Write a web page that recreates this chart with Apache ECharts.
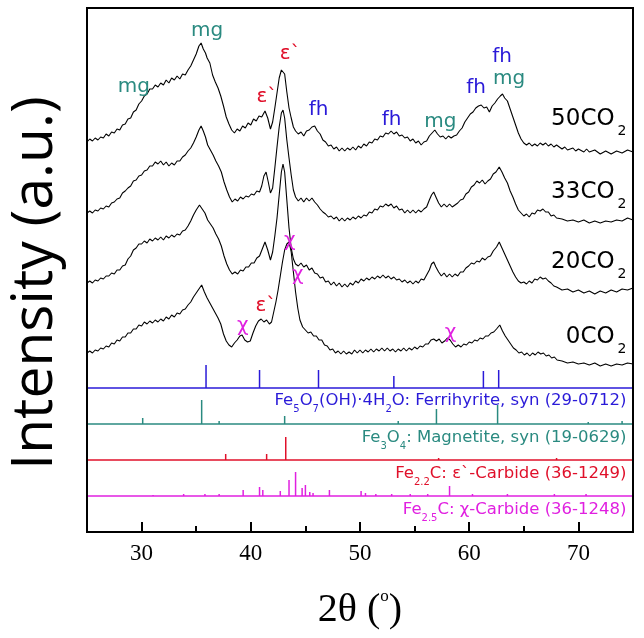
<!DOCTYPE html>
<html><head><meta charset="utf-8">
<script src="https://cdn.jsdelivr.net/npm/echarts@6/dist/echarts.min.js"></script>
<style>html,body{margin:0;padding:0;background:#fff}#c{width:644px;height:638px}</style>
</head><body><div id="c"></div>
<script>
// ---- axis ticks ----
const xTicks = [30, 40, 50, 60, 70];
const xMinorTicks = [35, 45, 55, 65];

// ---- XRD patterns (2theta, stacked intensity a.u.) ----
const s50CO2 = [[25,390],[25.25,393],[25.5,391],[25.75,394],[26,392],[26.25,395],[26.5,394],[26.75,398],[27,396],[27.25,400],[27.5,399],[27.75,403],[28,402],[28.25,407],[28.5,408],[28.75,413],[29,414],[29.25,420],[29.5,422],[29.75,428],[30,431],[30.25,436],[30.5,438],[30.75,443],[31,443],[31.25,447],[31.5,445],[31.75,449],[32,447],[32.25,452],[32.5,449],[32.75,454],[33,452],[33.25,456],[33.5,453],[33.75,458],[34,457],[34.25,462],[34.5,466],[34.75,472],[35,478],[35.25,486],[35.45,489],[35.65,483],[35.85,479],[36,474],[36.25,469],[36.5,457],[36.75,450],[37,444],[37.25,436],[37.5,426],[37.75,415],[38,408],[38.25,402],[38.5,399],[38.75,403],[39,401],[39.25,406],[39.5,404],[39.75,409],[40,407],[40.25,413],[40.5,411],[40.75,416],[41,415],[41.3,421],[41.55,414],[41.8,403],[42,410],[42.2,424],[42.4,439],[42.6,454],[42.8,462],[42.95,464],[43.1,458],[43.3,440],[43.5,424],[43.7,414],[43.9,405],[44.1,401],[44.35,398],[44.6,400],[44.85,396],[45.1,401],[45.35,402],[45.6,405],[45.85,406],[46.1,401],[46.35,398],[46.6,392],[46.85,390],[47.1,386],[47.35,387],[47.6,383],[47.85,385],[48.1,381],[48.35,384],[48.6,381],[48.85,384],[49.1,382],[49.35,385],[49.6,382],[49.85,386],[50.1,384],[50.35,388],[50.6,386],[50.85,390],[51.1,389],[51.35,393],[51.6,392],[51.85,396],[52.1,395],[52.35,399],[52.6,398],[52.85,401],[53.1,398],[53.35,400],[53.6,396],[53.85,397],[54.1,394],[54.35,395],[54.6,391],[54.85,393],[55.1,389],[55.35,391],[55.6,387],[55.85,390],[56.1,391],[56.35,396],[56.6,399],[56.85,402],[57.1,398],[57.35,395],[57.6,396],[57.85,393],[58.1,396],[58.35,394],[58.6,396],[58.85,397],[59.1,401],[59.35,404],[59.6,410],[59.85,414],[60.1,418],[60.35,420],[60.6,424],[60.85,426],[61.1,427],[61.35,424],[61.6,425],[61.85,420],[62.1,426],[62.35,429],[62.6,433],[62.85,436],[63.05,438],[63.25,434],[63.5,431],[63.75,423],[64,415],[64.25,407],[64.5,399],[64.75,393],[65,389],[65.25,387],[65.5,389],[65.75,386],[66,388],[66.25,386],[66.5,389],[66.75,387],[67,389],[67.25,386],[67.5,388],[67.75,385],[68,387],[68.5,383],[68.75,385],[69,382],[69.5,384],[69.75,381],[70,383],[70.5,380],[70.75,383],[71,380],[71.5,382],[72,378],[72.5,381],[73,378],[73.5,381],[74,379],[74.5,382],[75,380]];
const s33CO2 = [[25,319],[25.25,321],[25.5,319],[25.75,322],[26,321],[26.25,324],[26.5,323],[26.75,326],[27,325],[27.25,329],[27.5,330],[27.75,333],[28,334],[28.25,339],[28.5,341],[28.75,344],[29,346],[29.25,351],[29.5,352],[29.75,356],[30,357],[30.25,361],[30.5,362],[30.75,366],[31,366],[31.25,370],[31.5,368],[31.75,371],[32,367],[32.25,370],[32.5,366],[32.75,369],[33,367],[33.25,371],[33.5,371],[33.75,375],[34,377],[34.25,381],[34.5,384],[34.75,389],[35,395],[35.25,402],[35.45,406],[35.65,401],[35.85,395],[36.05,387],[36.3,382],[36.55,377],[36.8,371],[37.05,366],[37.3,360],[37.55,350],[37.8,342],[38.05,335],[38.3,330],[38.55,333],[38.8,331],[39.05,335],[39.3,333],[39.55,336],[39.8,335],[40.05,338],[40.3,337],[40.55,341],[40.8,340],[41,346],[41.2,356],[41.4,360],[41.6,350],[41.8,339],[42,344],[42.2,364],[42.4,385],[42.6,405],[42.8,419],[42.95,422],[43.1,414],[43.3,392],[43.5,374],[43.7,357],[43.9,342],[44.1,335],[44.35,331],[44.6,334],[44.85,330],[45.1,334],[45.35,331],[45.6,334],[45.85,330],[46.1,327],[46.35,323],[46.6,320],[46.85,318],[47.1,315],[47.35,316],[47.6,313],[47.85,315],[48.1,311],[48.35,314],[48.6,311],[48.85,314],[49.1,312],[49.35,315],[49.6,313],[49.85,316],[50.1,314],[50.35,317],[50.6,316],[50.85,320],[51.1,319],[51.35,323],[51.6,322],[51.85,326],[52.1,325],[52.35,328],[52.6,326],[52.85,328],[53.1,324],[53.35,326],[53.6,322],[53.85,323],[54.1,319],[54.35,322],[54.6,319],[54.85,322],[55.1,319],[55.35,322],[55.6,320],[55.85,323],[56.1,325],[56.35,332],[56.55,337],[56.75,340],[56.95,335],[57.2,329],[57.45,325],[57.7,328],[57.95,325],[58.2,328],[58.45,325],[58.7,327],[58.95,329],[59.2,332],[59.45,333],[59.7,338],[59.95,340],[60.2,345],[60.45,347],[60.7,351],[60.95,349],[61.2,352],[61.45,348],[61.7,351],[61.95,353],[62.2,358],[62.45,360],[62.75,365],[63,360],[63.25,354],[63.5,349],[63.75,341],[64,335],[64.25,328],[64.5,322],[64.75,319],[65,316],[65.25,318],[65.5,315],[65.75,319],[66,318],[66.25,322],[66.5,321],[66.75,323],[67,320],[67.25,320],[67.5,316],[67.75,317],[68,314],[68.5,313],[69,311],[69.5,312],[70,310],[70.5,312],[71,309],[71.5,311],[72,309],[72.5,311],[73,310],[73.5,312],[74,311],[74.5,314],[75,312]];
const s20CO2 = [[25,249],[25.25,251],[25.5,249],[25.75,252],[26,251],[26.25,254],[26.5,253],[26.75,256],[27,256],[27.25,259],[27.5,258],[27.75,262],[28,262],[28.25,266],[28.5,267],[28.75,273],[29,276],[29.25,282],[29.5,284],[29.75,288],[30,288],[30.25,291],[30.5,289],[30.75,293],[31,291],[31.25,294],[31.5,292],[31.75,295],[32,292],[32.25,296],[32.5,294],[32.75,297],[33,295],[33.25,298],[33.5,297],[33.75,301],[34,302],[34.25,306],[34.5,311],[34.75,317],[35,322],[35.3,327],[35.55,323],[35.8,319],[36.05,312],[36.3,308],[36.55,304],[36.8,298],[37.05,293],[37.3,286],[37.55,276],[37.8,268],[38.05,262],[38.3,258],[38.55,260],[38.8,258],[39.05,262],[39.3,261],[39.55,265],[39.8,265],[40.05,269],[40.3,269],[40.55,274],[40.8,276],[41.05,283],[41.3,290],[41.55,282],[41.8,272],[42,280],[42.2,296],[42.4,314],[42.6,337],[42.8,360],[42.95,368],[43.1,360],[43.3,332],[43.5,304],[43.7,284],[43.9,273],[44.1,268],[44.35,266],[44.6,269],[44.85,265],[45.1,267],[45.35,262],[45.6,264],[45.85,259],[46.1,258],[46.35,254],[46.6,255],[46.85,250],[47.1,251],[47.35,247],[47.6,250],[47.85,246],[48.1,249],[48.35,245],[48.6,248],[48.85,245],[49.1,249],[49.35,247],[49.6,251],[49.85,249],[50.1,253],[50.35,251],[50.6,254],[50.85,252],[51.1,255],[51.35,253],[51.6,256],[51.85,254],[52.1,257],[52.35,254],[52.6,256],[52.85,253],[53.1,255],[53.35,252],[53.6,253],[53.85,250],[54.1,252],[54.35,249],[54.6,251],[54.85,248],[55.1,251],[55.35,249],[55.6,253],[55.85,252],[56.1,257],[56.35,262],[56.55,268],[56.75,270],[56.95,265],[57.2,260],[57.45,256],[57.7,259],[57.95,255],[58.2,258],[58.45,255],[58.7,258],[58.95,256],[59.2,260],[59.45,260],[59.7,264],[59.95,266],[60.2,269],[60.45,268],[60.7,271],[60.95,270],[61.2,274],[61.45,272],[61.7,275],[61.95,276],[62.2,281],[62.5,285],[62.75,290],[63,284],[63.25,278],[63.5,272],[63.75,266],[64,260],[64.25,255],[64.5,251],[64.75,249],[65,250],[65.25,248],[65.5,251],[65.75,249],[66,253],[66.25,252],[66.5,255],[66.75,253],[67,254],[67.25,251],[67.5,249],[67.75,246],[68,245],[68.5,242],[69,243],[69.5,240],[70,242],[70.5,239],[71,241],[71.5,238],[72,241],[72.5,239],[73,242],[73.5,240],[74,243],[74.5,242],[75,244]];
const s0CO2 = [[25,179],[25.25,181],[25.5,179],[25.75,182],[26,181],[26.25,184],[26.5,183],[26.75,186],[27,185],[27.25,189],[27.5,188],[27.75,192],[28,191],[28.25,195],[28.5,195],[28.75,199],[29,199],[29.25,203],[29.5,203],[29.75,207],[30,206],[30.25,210],[30.5,208],[30.75,211],[31,209],[31.25,212],[31.5,210],[31.75,213],[32,211],[32.25,215],[32.5,213],[32.75,217],[33,215],[33.25,219],[33.5,218],[33.75,222],[34,223],[34.25,227],[34.5,230],[34.75,235],[35,239],[35.25,243],[35.5,247],[35.75,240],[36,234],[36.25,229],[36.5,224],[36.75,219],[37,214],[37.25,208],[37.5,198],[37.75,191],[38,187],[38.25,185],[38.5,189],[38.75,192],[39,196],[39.2,197],[39.45,192],[39.7,190],[39.95,191],[40.2,199],[40.45,206],[40.7,211],[40.95,213],[41.2,210],[41.45,212],[41.7,208],[41.9,210],[42.1,220],[42.3,230],[42.5,242],[42.7,256],[42.9,270],[43.1,282],[43.3,288],[43.5,290],[43.7,280],[43.9,260],[44.1,240],[44.3,224],[44.5,212],[44.75,205],[45,202],[45.25,199],[45.5,200],[45.75,196],[46,196],[46.25,192],[46.5,192],[46.75,187],[47,186],[47.25,182],[47.5,183],[47.75,179],[48,181],[48.25,178],[48.5,181],[48.75,178],[49,180],[49.25,178],[49.5,182],[49.75,179],[50,182],[50.25,179],[50.5,182],[50.75,180],[51,183],[51.25,180],[51.5,183],[51.75,181],[52,184],[52.25,181],[52.5,184],[52.75,181],[53,183],[53.25,180],[53.5,183],[53.75,181],[54,184],[54.25,181],[54.5,184],[54.75,182],[55,185],[55.25,183],[55.5,186],[55.75,185],[56,188],[56.25,188],[56.5,192],[56.75,193],[57,191],[57.25,193],[57.5,189],[57.75,191],[58,194],[58.25,192],[58.5,188],[58.75,185],[59,187],[59.25,185],[59.5,188],[59.75,187],[60,190],[60.25,189],[60.5,192],[60.75,191],[61,194],[61.25,193],[61.5,196],[61.75,196],[62,199],[62.25,200],[62.5,203],[62.8,207],[63.05,201],[63.3,196],[63.55,192],[63.8,188],[64.05,184],[64.3,182],[64.55,179],[64.8,180],[65.05,177],[65.3,179],[65.55,176],[65.8,179],[66.05,177],[66.3,180],[66.55,178],[66.8,179],[67.05,176],[67.3,177],[67.55,174],[67.8,175],[68.05,172],[68.5,171],[69,169],[69.5,170],[70,168],[70.5,169],[71,167],[71.5,169],[72,166],[72.5,168],[73,166],[73.5,168],[74,167],[74.5,169],[75,168]];

const samplePatterns = [s50CO2, s33CO2, s20CO2, s0CO2];
const sampleNames = ['50CO', '33CO', '20CO', '0CO'];
const sampleLabelY = [413, 340, 270, 195];

// ---- reference stick patterns (JCPDS) ----
const refBaselines = [144, 108, 72, 36];
const refLabelY = [131, 94, 58, 22];
const fhPos = [35.9, 40.8, 46.2, 53.1, 61.3, 62.7];
const fhH   = [23, 18, 18, 12, 17, 18];
const mgPos = [30.1, 35.5, 37.1, 43.1, 53.5, 57.0, 62.6, 70.9, 74.0];
const mgH   = [6, 24, 3, 8, 3, 15, 19, 2, 3];
const epsPos = [37.7, 41.45, 43.2, 57.2, 68.0];
const epsH   = [6, 6, 23, 2, 2];
const chiPos = [31.05, 33.85, 35.8, 37.1, 39.3, 40.8, 41.1, 42.7, 43.5, 44.1, 44.7, 45.0, 45.4, 45.7, 47.2, 50.1, 50.5, 51.45, 52.9, 54.6, 56.2, 58.2, 60.3, 63.5, 67.8, 70.7];
const chiH   = [1, 2, 2, 2, 6, 9, 6, 5, 16, 24, 8, 11, 4, 3, 6, 5, 3, 2, 2, 2, 2, 10, 2, 2, 2, 2];

// ---- peak annotations [2theta, y, text, phase] ----
const peakNotes = [
  [29.3, 445, 'mg', 'mg'], [36.0, 501, 'mg', 'mg'], [41.47, 435, 'ε`', 'eps'], [43.6, 478, 'ε`', 'eps'],
  [46.2, 422, 'fh', 'fh'], [52.9, 412, 'fh', 'fh'], [57.36, 410, 'mg', 'mg'], [60.64, 444, 'fh', 'fh'],
  [63.02, 475, 'fh', 'fh'], [63.66, 453, 'mg', 'mg'],
  [43.57, 291, 'χ', 'chi'], [44.3, 257, 'χ', 'chi'], [39.27, 206, 'χ', 'chi'], [41.38, 226, 'ε`', 'eps'], [58.29, 199, 'χ', 'chi']
];

const COL = { fh: '#2a1ad8', mg: '#2a8a80', eps: '#e0102a', chi: '#e020e0' };
const refColors = [COL.fh, COL.mg, COL.eps, COL.chi];
const refSticks = [[fhPos, fhH], [mgPos, mgH], [epsPos, epsH], [chiPos, chiH]];
const refLabels = [
  '{m|Fe}{s|5}{m|O}{s|7}{m|(OH)·4H}{s|2}{m|O: Ferrihyrite, syn (29-0712)}',
  '{m|Fe}{s|3}{m|O}{s|4}{m|: Magnetite, syn (19-0629)}',
  '{m|Fe}{s|2.2}{m|C: ε`-Carbide (36-1249)}',
  '{m|Fe}{s|2.5}{m|C: χ-Carbide (36-1248)}'
];

const chart = echarts.init(document.getElementById('c'), null, { renderer: 'canvas' });
const series = [];
const LABX = 74.4;

samplePatterns.forEach((d) => {
  series.push({ type: 'line', data: d, showSymbol: false, symbol: 'none', silent: true,
    lineStyle: { color: '#000', width: 1.1 }, z: 3 });
});

refBaselines.forEach((b, i) => {
  series.push({ type: 'line', data: [[25, b], [75, b]], showSymbol: false, symbol: 'none', silent: true,
    lineStyle: { color: refColors[i], width: 1.3 }, z: 2 });
  const [pos, h] = refSticks[i];
  series.push({ type: 'custom', silent: true, z: 2,
    data: pos.map((p, k) => [p, h[k]]),
    encode: { x: 0, y: 1 },
    renderItem: (params, api) => {
      const x = api.value(0), hh = api.value(1);
      const p0 = api.coord([x, b]);
      const p1 = api.coord([x, b + hh]);
      return { type: 'line', shape: { x1: p0[0], y1: p0[1], x2: p1[0], y2: p1[1] },
        style: { stroke: refColors[i], lineWidth: 1.5 } };
    }
  });
});

// annotations
series.push({ type: 'scatter', symbolSize: 0, silent: true, z: 5, itemStyle: { opacity: 1 },
  data: peakNotes.map(n => ({ value: [n[0], n[1]], name: n[2],
    label: { color: COL[n[3]] } })),
  label: { show: true, position: 'inside', formatter: '{b}', fontFamily: 'DejaVu Sans', fontSize: 20, opacity: 1 }
});

// sample labels
series.push({ type: 'scatter', symbolSize: 0, silent: true, z: 5, itemStyle: { opacity: 1 },
  data: sampleNames.map((n, i) => ({ value: [LABX, sampleLabelY[i]], name: n })),
  label: { show: true, position: 'inside', align: 'right', color: '#000', opacity: 1,
    formatter: p => '{a|' + p.name + '}{s|2}',
    rich: {
      a: { fontFamily: 'DejaVu Sans', fontSize: 23, color: '#000', lineHeight: 38, verticalAlign: 'middle' },
      s: { fontFamily: 'DejaVu Sans', fontSize: 14, color: '#000', lineHeight: 14, verticalAlign: 'bottom', padding: [0, 0, 0, 3] }
    }
  }
});

// reference labels
series.push({ type: 'scatter', symbolSize: 0, silent: true, z: 5, itemStyle: { opacity: 1 },
  data: refLabels.map((t, i) => ({ value: [LABX, refLabelY[i]], name: t,
    label: { rich: {
      m: { fontFamily: 'DejaVu Sans', fontSize: 16.5, color: refColors[i], lineHeight: 26, verticalAlign: 'middle' },
      s: { fontFamily: 'DejaVu Sans', fontSize: 10, color: refColors[i], lineHeight: 10, verticalAlign: 'bottom' }
    } } })),
  label: { show: true, position: 'inside', align: 'right', formatter: '{b}', opacity: 1 }
});

chart.setOption({
  animation: false,
  backgroundColor: '#fff',
  grid: { left: 87, right: 11, top: 8, bottom: 106, show: true, borderColor: '#000', borderWidth: 2, backgroundColor: 'transparent', z: 10,
    outerBoundsMode: 'none', containLabel: false },
  xAxis: [
    { type: 'value', min: 25, max: 75, position: 'bottom',
      axisLine: { show: false, onZero: false },
      axisTick: { show: true, inside: true, length: 10, customValues: xTicks, lineStyle: { color: '#000', width: 2 } },
      axisLabel: { show: true, customValues: xTicks, margin: 10, fontFamily: 'Liberation Serif', fontSize: 23, color: '#000' },
      splitLine: { show: false },
      name: '{a|2θ (}{o|o}{a|)}', nameLocation: 'middle', nameGap: 56,
      nameTextStyle: { rich: {
        a: { fontFamily: 'Liberation Serif', fontSize: 40, color: '#000', lineHeight: 44, verticalAlign: 'middle' },
        o: { fontFamily: 'Liberation Serif', fontSize: 17, color: '#000', lineHeight: 17, verticalAlign: 'top' }
      } }
    },
    { type: 'value', min: 25, max: 75, position: 'bottom',
      axisLine: { show: false, onZero: false },
      axisTick: { show: true, inside: true, length: 6, customValues: xMinorTicks, lineStyle: { color: '#000', width: 2 } },
      axisLabel: { show: false }, splitLine: { show: false }
    }
  ],
  yAxis: { type: 'value', min: 0, max: 524,
    axisLine: { show: false }, axisTick: { show: false }, axisLabel: { show: false }, splitLine: { show: false },
    name: 'Intensity (a.u.)', nameLocation: 'middle', nameGap: 23, nameRotate: 90,
    nameTextStyle: { fontFamily: 'Open Sans', fontSize: 57, color: '#000', lineHeight: 56, padding: [0, 26, 0, 0] }
  },
  series: series
});
</script>
</body></html>
